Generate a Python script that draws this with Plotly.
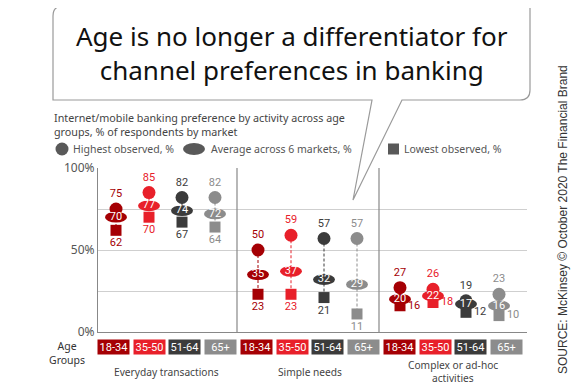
import plotly.graph_objects as go

# ---------------- data ----------------
groups = ["Everyday transactions", "Simple needs", "Complex or ad-hoc<br>activities"]
age_groups = ["18-34", "35-50", "51-64", "65+"]
age_colors = ["#A50004", "#E8202A", "#3B3B3B", "#8C8C8C"]

highest = [[75, 85, 82, 82], [50, 59, 57, 57], [27, 26, 19, 23]]
average = [[70, 77, 74, 72], [35, 37, 32, 29], [20, 22, 17, 16]]
lowest = [[62, 70, 67, 64], [23, 23, 21, 11], [16, 18, 12, 10]]

y_ticks = [0, 25, 50, 75, 100]
y_ticktext = ["0%", "", "50%", "", "100%"]

title = "Age is no longer a differentiator for<br>channel preferences in banking"
subtitle = "Internet/mobile banking preference by activity across age<br>groups, % of respondents by market"
legend_labels = ["Highest observed, %", "Average across 6 markets, %", "Lowest observed, %"]
source = "SOURCE: McKinsey © October 2020 The Financial Brand"

# ---------------- layout geometry ----------------
W, H = 585, 385
OFF = 8                     # page body margin
ML, MT = 98 - OFF, 168 - OFF
PW, PH = 429, 164
MR = W - ML - PW
MB = H - MT - PH

GROUP_STEP = 142
ITEM_STEP = 33
ITEM_OFF = 18
BOX_STEP = 35.5
BOX_OFF = 15.5
BOX_GROUP_STEP = 143


def px(p):
    return (p - OFF - ML) / PW


def py(p):
    return (MT + PH - (p - OFF)) / PH


def mx(g, j):
    return ITEM_OFF + g * GROUP_STEP + j * ITEM_STEP


FONT = "Noto Sans"
NUMFONT = "Roboto"

fig = go.Figure()
shapes = []
annotations = []

# connectors (dashed) and ellipses
for g in range(len(groups)):
    for j, col in enumerate(age_colors):
        x = mx(g, j)
        shapes.append(dict(type="line", xref="x", yref="y", x0=x, x1=x,
                           y0=highest[g][j], y1=lowest[g][j],
                           line=dict(color=col, width=1, dash="3px,2px"), layer="between"))
for g in range(len(groups)):
    for j, col in enumerate(age_colors):
        x = mx(g, j)
        shapes.append(dict(type="circle", xref="x", yref="y", x0=x - 11, x1=x + 11,
                           y0=average[g][j] - 3.3, y1=average[g][j] + 3.3,
                           fillcolor=col, line=dict(color=col, width=0), layer="between"))

for j, (ag, col) in enumerate(zip(age_groups, age_colors)):
    xs = [mx(g, j) for g in range(len(groups))]
    hi = [highest[g][j] for g in range(len(groups))]
    av = [average[g][j] for g in range(len(groups))]
    lo = [lowest[g][j] for g in range(len(groups))]
    # highest circles
    fig.add_trace(go.Scatter(x=xs, y=hi, mode="markers+text", text=[str(v) for v in hi],
                             textposition="top center",
                             textfont=dict(family=NUMFONT, size=11, color=col),
                             marker=dict(symbol="circle", size=13, color=col),
                             showlegend=False, hoverinfo="skip", cliponaxis=False))
    # lowest squares
    fig.add_trace(go.Scatter(x=xs, y=lo, mode="markers+text", text=[str(v) for v in lo],
                             textposition=["bottom center", "bottom center", "middle right"],
                             textfont=dict(family=NUMFONT, size=11, color=col),
                             marker=dict(symbol="square", size=11, color=col),
                             showlegend=False, hoverinfo="skip", cliponaxis=False))
    # average text
    fig.add_trace(go.Scatter(x=xs, y=av, mode="text", text=[str(v) for v in av],
                             textposition="middle center",
                             textfont=dict(family=NUMFONT, size=11, color="white"),
                             showlegend=False, hoverinfo="skip", cliponaxis=False))

# group dividers
for g in range(1, len(groups)):
    xd = g * GROUP_STEP - 3
    shapes.append(dict(type="line", xref="x", yref="y", x0=xd, x1=xd, y0=0, y1=100,
                       line=dict(color="#888888", width=1.2), layer="between"))

# age group boxes and group labels
for g, gname in enumerate(groups):
    for j, (ag, col) in enumerate(zip(age_groups, age_colors)):
        xc = BOX_OFF + g * BOX_GROUP_STEP + j * BOX_STEP
        annotations.append(dict(x=xc, y=py(347), xref="x", yref="paper", text=ag,
                                showarrow=False, bgcolor=col, width=31, height=14,
                                borderpad=0, font=dict(family=NUMFONT, size=11, color="white"),
                                xanchor="center", yanchor="middle"))
    gx = BOX_OFF + g * BOX_GROUP_STEP + 1.5 * BOX_STEP
    lines = gname.split("<br>")
    n = len(lines)
    for k, ln in enumerate(lines):
        yy = 371.5 + (k - (n - 1) / 2) * 12.5
        annotations.append(dict(x=gx, y=py(yy), xref="x", yref="paper", text=ln,
                                showarrow=False, font=dict(family=FONT, size=10.2, color="#444444"),
                                xanchor="center", yanchor="middle"))

annotations.append(dict(x=px(67), y=py(353), xref="paper", yref="paper", text="Age<br>Groups",
                        showarrow=False, font=dict(family=FONT, size=10.5, color="#333333"),
                        xanchor="center", yanchor="middle"))

# speech bubble
r = 10
x0b, x1b, y0b, y1b = 53, 530, 6, 100
pts = [
    ("M", x0b + r, y0b), ("L", x1b, y0b), ("L", x1b, y1b - r), ("Q", x1b, y1b, x1b - r, y1b),
    ("L", 402, y1b), ("L", 353, 200), ("L", 372, y1b), ("L", x0b, y1b), ("L", x0b, y0b + r),
    ("Q", x0b, y0b, x0b + r, y0b),
]
path = ""
for p in pts:
    if p[0] == "Q":
        path += f"Q {px(p[1])},{py(p[2])} {px(p[3])},{py(p[4])} "
    else:
        path += f"{p[0]} {px(p[1])},{py(p[2])} "
path += "Z"
shapes.append(dict(type="path", xref="paper", yref="paper", path=path,
                   fillcolor="white", line=dict(color="#9a9a9a", width=1.2), layer="above"))

annotations.append(dict(x=px(292), y=py(53), xref="paper", yref="paper", text=title,
                        showarrow=False, font=dict(family=FONT, size=26, color="#111111"),
                        xanchor="center", yanchor="middle", align="center"))

annotations.append(dict(x=px(52), y=py(109), xref="paper", yref="paper", text=subtitle,
                        showarrow=False, font=dict(family=FONT, size=10.75, color="#444444"),
                        xanchor="left", yanchor="top", align="left"))

# legend
lc = "#595959"
shapes.append(dict(type="circle", xref="paper", yref="paper", x0=px(55.5), x1=px(68.5),
                   y0=py(155.5), y1=py(142.5), fillcolor=lc, line=dict(width=0)))
shapes.append(dict(type="circle", xref="paper", yref="paper", x0=px(183), x1=px(205),
                   y0=py(155), y1=py(143), fillcolor=lc, line=dict(width=0)))
shapes.append(dict(type="rect", xref="paper", yref="paper", x0=px(388), x1=px(399),
                   y0=py(154.5), y1=py(143.5), fillcolor=lc, line=dict(width=0)))
for lx, lt in zip([71, 209, 402], legend_labels):
    annotations.append(dict(x=px(lx), y=py(149), xref="paper", yref="paper", text=lt,
                            showarrow=False, font=dict(family=FONT, size=10.5, color="#555555"),
                            xanchor="left", yanchor="middle"))

annotations.append(dict(x=px(563), y=py(220), xref="paper", yref="paper", text=source,
                        showarrow=False, textangle=-90,
                        font=dict(family="Liberation Sans", size=12, color="#333333"),
                        xanchor="center", yanchor="middle"))

fig.update_layout(
    width=W, height=H,
    margin=dict(l=ML, r=MR, t=MT, b=MB),
    paper_bgcolor="white", plot_bgcolor="white",
    shapes=shapes, annotations=annotations,
    showlegend=False,
    xaxis=dict(range=[0, PW], showgrid=False, zeroline=False, showticklabels=False,
               showline=True, linecolor="#888888", linewidth=1.2, fixedrange=True),
    yaxis=dict(range=[0, 100], tickvals=y_ticks, ticktext=y_ticktext, showgrid=True,
               gridcolor="#cfcfcf", gridwidth=1, zeroline=False, showline=True,
               linecolor="#888888", linewidth=1.2, ticks="",
               tickfont=dict(family=FONT, size=12, color="#555555"), fixedrange=True),
)

fig.write_html("out.html")
